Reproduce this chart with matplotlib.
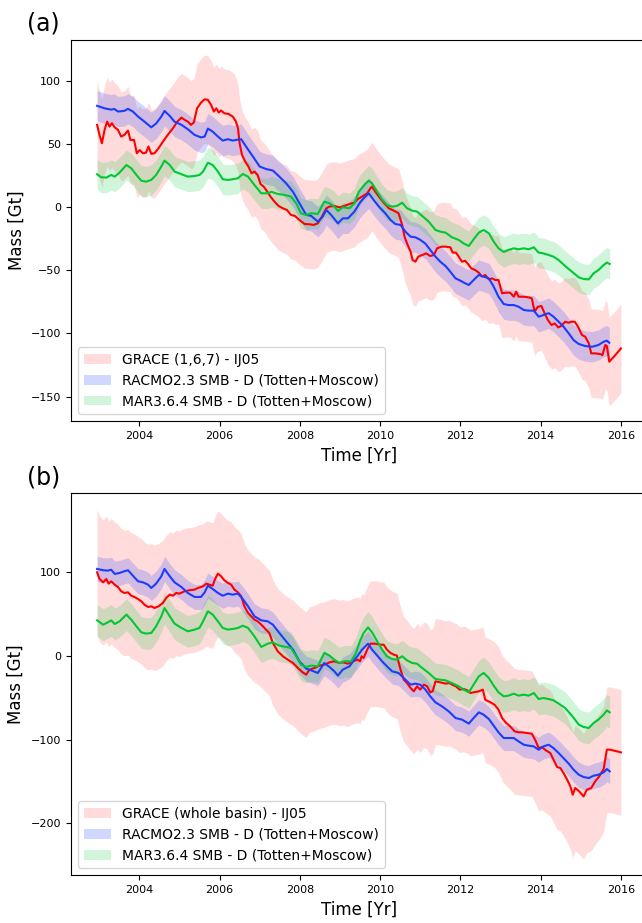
import numpy as np
import matplotlib
matplotlib.use('Agg')
import matplotlib.pyplot as plt

# (time [yr], mass [Gt])
# ---- panel (a) ----
GRACE_A = [(2002.95, 64.9), (2003.01, 57.0), (2003.07, 50.4), (2003.14, 61.5), (2003.20, 67.5), (2003.26, 63.6),
           (2003.32, 66.2), (2003.39, 63.0), (2003.47, 61.0), (2003.55, 55.7), (2003.63, 57.0), (2003.72, 60.4),
           (2003.78, 53.0), (2003.87, 53.0), (2003.94, 42.5), (2004.01, 45.0), (2004.09, 42.5), (2004.17, 43.0),
           (2004.23, 47.8), (2004.30, 42.0), (2004.38, 42.5), (2004.48, 46.4), (2004.59, 51.7), (2004.71, 57.0),
           (2004.84, 62.3), (2004.95, 67.5), (2005.05, 70.7), (2005.13, 68.9), (2005.21, 67.5), (2005.29, 64.9),
           (2005.36, 66.8), (2005.44, 78.0), (2005.54, 82.6), (2005.63, 85.2), (2005.71, 84.7), (2005.79, 80.7),
           (2005.86, 75.5), (2005.92, 78.0), (2005.98, 74.7), (2006.04, 76.3), (2006.12, 74.1), (2006.22, 73.6),
           (2006.33, 71.5), (2006.41, 67.5), (2006.46, 62.3), (2006.50, 50.4), (2006.56, 41.2), (2006.64, 35.9),
           (2006.72, 31.9), (2006.80, 26.6), (2006.87, 28.0), (2006.95, 25.3), (2007.02, 18.2), (2007.10, 16.1),
           (2007.19, 12.1), (2007.27, 8.2), (2007.37, 4.2), (2007.47, 0.8), (2007.58, -1.1), (2007.68, -2.4),
           (2007.78, -6.3), (2007.88, -7.1), (2007.99, -10.3), (2008.12, -13.5), (2008.24, -13.7), (2008.35, -14.2),
           (2008.45, -12.9), (2008.55, -7.7), (2008.66, -1.1), (2008.74, 0.3), (2008.86, 0.8), (2008.99, -0.3),
           (2009.11, 0.8), (2009.24, 2.4), (2009.36, 3.4), (2009.44, 6.1), (2009.55, 8.2), (2009.68, 10.8),
           (2009.76, 14.8), (2009.80, 16.1), (2009.88, 12.1), (2009.97, 8.2), (2010.09, 3.4), (2010.22, -1.1),
           (2010.34, -2.9), (2010.46, -5.0), (2010.55, -14.2), (2010.61, -23.5), (2010.67, -28.8), (2010.76, -35.4),
           (2010.81, -42.0), (2010.88, -43.3), (2010.95, -39.3), (2011.05, -38.0), (2011.15, -36.7), (2011.25, -38.8),
           (2011.34, -38.0), (2011.42, -32.7), (2011.53, -31.4), (2011.63, -31.4), (2011.75, -31.9), (2011.81, -36.1),
           (2011.89, -36.1), (2011.96, -39.3), (2012.04, -43.3), (2012.12, -42.5), (2012.19, -45.1), (2012.27, -48.5),
           (2012.37, -49.9), (2012.46, -52.0), (2012.54, -55.1), (2012.62, -53.8), (2012.71, -57.3), (2012.79, -56.5),
           (2012.87, -57.8), (2012.95, -57.8), (2013.04, -68.3), (2013.14, -67.8), (2013.24, -67.8), (2013.33, -71.0),
           (2013.39, -67.0), (2013.45, -71.0), (2013.58, -71.0), (2013.70, -71.5), (2013.78, -72.3), (2013.85, -82.8),
           (2013.93, -78.9), (2014.02, -78.4), (2014.10, -84.2), (2014.18, -89.4), (2014.27, -93.4), (2014.35, -92.1),
           (2014.44, -95.3), (2014.51, -94.2), (2014.61, -90.8), (2014.70, -91.6), (2014.76, -90.8), (2014.85, -90.8),
           (2014.93, -94.7), (2015.03, -101.3), (2015.11, -102.6), (2015.20, -107.9), (2015.26, -115.8),
           (2015.36, -115.8), (2015.49, -116.4), (2015.54, -117.2), (2015.61, -109.2), (2015.65, -110.0),
           (2015.71, -122.4), (2015.86, -117.2), (2016.00, -111.9)]

RACMO_A = [(2002.95, 80.0), (2003.14, 78.0), (2003.30, 77.0), (2003.38, 77.5), (2003.47, 75.5), (2003.63, 76.0),
           (2003.72, 77.6), (2003.84, 75.5), (2003.97, 71.5), (2004.13, 67.5), (2004.30, 63.0), (2004.42, 66.0),
           (2004.55, 71.5), (2004.63, 76.0), (2004.76, 72.0), (2004.88, 67.5), (2005.05, 65.0), (2005.21, 61.5),
           (2005.38, 57.0), (2005.54, 55.0), (2005.63, 55.7), (2005.71, 62.0), (2005.83, 59.6), (2005.96, 55.7),
           (2006.08, 52.5), (2006.21, 53.6), (2006.33, 52.5), (2006.41, 53.0), (2006.54, 53.6), (2006.66, 47.8),
           (2006.83, 40.0), (2007.00, 32.0), (2007.16, 30.0), (2007.33, 28.8), (2007.49, 24.0), (2007.66, 18.7),
           (2007.83, 12.0), (2007.99, 3.0), (2008.16, -6.3), (2008.28, -7.0), (2008.45, -11.6), (2008.57, -7.7),
           (2008.66, -2.4), (2008.78, -6.3), (2008.95, -13.0), (2009.07, -9.0), (2009.20, -9.0), (2009.36, -3.7),
           (2009.50, 3.5), (2009.59, 6.9), (2009.72, 10.8), (2009.84, 5.5), (2009.97, 0.3), (2010.13, -5.0),
           (2010.26, -10.3), (2010.38, -13.5), (2010.51, -14.2), (2010.63, -19.5), (2010.76, -23.5), (2010.88, -24.0),
           (2011.00, -26.0), (2011.13, -29.0), (2011.25, -34.0), (2011.38, -39.3), (2011.50, -43.3), (2011.63, -46.7),
           (2011.75, -51.2), (2011.88, -56.5), (2012.00, -58.3), (2012.12, -60.4), (2012.21, -61.7), (2012.33, -57.8),
           (2012.46, -53.8), (2012.58, -55.1), (2012.71, -56.5), (2012.83, -63.0), (2012.95, -71.0), (2013.08, -76.8),
           (2013.20, -77.6), (2013.33, -77.6), (2013.45, -78.9), (2013.58, -81.5), (2013.70, -82.0), (2013.83, -82.0),
           (2013.95, -86.8), (2014.07, -85.5), (2014.20, -84.0), (2014.32, -86.8), (2014.45, -90.8), (2014.57, -94.7),
           (2014.70, -100.0), (2014.82, -105.3), (2014.95, -108.4), (2015.11, -110.0), (2015.28, -110.6),
           (2015.44, -109.2), (2015.57, -106.6), (2015.65, -105.8), (2015.71, -107.4)]

MAR_A = [(2002.95, 25.9), (2003.05, 23.5), (2003.18, 23.2), (2003.30, 25.3), (2003.39, 24.0), (2003.51, 27.2),
         (2003.68, 33.2), (2003.80, 30.6), (2003.93, 25.3), (2004.05, 20.8), (2004.17, 20.0), (2004.30, 21.4),
         (2004.42, 25.3), (2004.55, 32.0), (2004.63, 36.7), (2004.76, 33.2), (2004.88, 28.0), (2005.05, 25.9),
         (2005.21, 24.0), (2005.38, 24.5), (2005.50, 25.3), (2005.59, 28.0), (2005.71, 35.0), (2005.83, 33.2),
         (2005.96, 28.0), (2006.08, 21.9), (2006.21, 21.4), (2006.33, 21.9), (2006.46, 22.7), (2006.58, 26.1),
         (2006.71, 24.0), (2006.87, 17.4), (2007.04, 10.8), (2007.20, 10.8), (2007.29, 12.0), (2007.45, 10.3),
         (2007.62, 9.5), (2007.78, 8.2), (2007.91, 2.9), (2008.03, -5.0), (2008.16, -6.3), (2008.28, -5.0),
         (2008.45, -5.5), (2008.61, 4.2), (2008.74, 2.9), (2008.86, 0.3), (2008.95, -3.2), (2009.07, -0.3),
         (2009.24, -1.0), (2009.36, 2.9), (2009.47, 12.0), (2009.63, 18.2), (2009.72, 20.8), (2009.80, 18.7),
         (2009.93, 12.0), (2010.05, 6.0), (2010.17, 1.6), (2010.30, 0.3), (2010.42, 0.8), (2010.55, 3.4),
         (2010.67, -1.0), (2010.80, -2.9), (2010.92, -3.7), (2011.05, -7.1), (2011.21, -11.6), (2011.38, -18.2),
         (2011.50, -19.5), (2011.63, -20.3), (2011.79, -24.0), (2011.96, -26.1), (2012.08, -28.8), (2012.21, -30.9),
         (2012.33, -25.6), (2012.46, -20.3), (2012.58, -18.2), (2012.71, -20.8), (2012.83, -27.4), (2012.95, -32.7),
         (2013.08, -35.6), (2013.20, -34.0), (2013.33, -32.7), (2013.45, -33.5), (2013.58, -32.7), (2013.70, -33.5),
         (2013.83, -31.9), (2013.95, -36.1), (2014.07, -36.7), (2014.20, -38.0), (2014.32, -39.3), (2014.45, -42.0),
         (2014.61, -46.7), (2014.78, -51.2), (2014.95, -55.7), (2015.07, -57.0), (2015.20, -57.3), (2015.32, -52.5),
         (2015.44, -49.9), (2015.57, -45.9), (2015.65, -44.0), (2015.72, -45.1)]

# ---- panel (b) ----
GRACE_B = [(2002.95, 100.0), (2003.01, 92.0), (2003.10, 88.0), (2003.18, 92.0), (2003.24, 86.4), (2003.30, 89.2),
           (2003.39, 85.2), (2003.47, 82.4), (2003.55, 77.3), (2003.63, 75.3), (2003.72, 76.0), (2003.80, 72.0),
           (2003.88, 70.5), (2003.97, 68.0), (2004.05, 65.3), (2004.13, 61.3), (2004.22, 58.5), (2004.30, 59.3),
           (2004.38, 57.3), (2004.48, 59.3), (2004.59, 63.3), (2004.67, 69.3), (2004.76, 73.3), (2004.84, 72.0),
           (2004.92, 75.3), (2005.00, 74.5), (2005.13, 77.3), (2005.25, 78.5), (2005.38, 79.3), (2005.46, 81.2),
           (2005.59, 83.2), (2005.67, 86.4), (2005.75, 85.2), (2005.83, 84.0), (2005.89, 92.0), (2005.96, 98.4),
           (2006.04, 95.2), (2006.12, 90.4), (2006.21, 87.2), (2006.29, 85.2), (2006.37, 79.3), (2006.46, 76.0),
           (2006.54, 71.3), (2006.62, 59.3), (2006.71, 51.4), (2006.79, 47.4), (2006.87, 43.4), (2006.95, 41.4),
           (2007.04, 37.4), (2007.12, 33.5), (2007.24, 27.5), (2007.33, 15.5), (2007.45, 5.6), (2007.58, -0.4),
           (2007.70, -4.4), (2007.83, -8.4), (2007.95, -14.3), (2008.07, -19.5), (2008.16, -22.3), (2008.24, -16.3),
           (2008.37, -14.3), (2008.49, -11.5), (2008.61, -10.4), (2008.74, -7.6), (2008.86, -6.4), (2008.99, -8.4),
           (2009.07, -7.6), (2009.20, -9.2), (2009.32, -6.4), (2009.44, -4.4), (2009.50, -6.4), (2009.54, -0.4),
           (2009.59, -2.4), (2009.68, 7.6), (2009.76, 14.7), (2009.88, 14.7), (2010.01, 13.5), (2010.09, 13.5),
           (2010.17, 7.6), (2010.26, 3.6), (2010.34, 1.6), (2010.42, 0.4), (2010.51, -16.3), (2010.59, -28.3),
           (2010.67, -32.3), (2010.76, -38.2), (2010.84, -42.2), (2010.92, -36.2), (2011.00, -40.2), (2011.09, -34.2),
           (2011.17, -36.2), (2011.25, -43.4), (2011.31, -42.2), (2011.38, -30.3), (2011.50, -31.5), (2011.63, -33.0),
           (2011.73, -32.3), (2011.79, -34.2), (2011.89, -36.2), (2011.98, -40.2), (2012.08, -39.4), (2012.17, -41.0),
           (2012.25, -44.2), (2012.33, -43.4), (2012.46, -42.2), (2012.56, -40.2), (2012.62, -52.2), (2012.75, -55.4),
           (2012.85, -58.1), (2012.95, -64.1), (2013.04, -74.1), (2013.14, -80.0), (2013.24, -84.0), (2013.35, -90.0),
           (2013.45, -91.2), (2013.54, -91.2), (2013.66, -92.0), (2013.78, -92.8), (2013.87, -100.8), (2013.95, -110.0),
           (2014.03, -108.7), (2014.13, -112.7), (2014.24, -115.9), (2014.32, -123.8), (2014.41, -132.6),
           (2014.49, -133.8), (2014.57, -139.8), (2014.66, -147.7), (2014.74, -155.7), (2014.80, -165.7),
           (2014.86, -157.7), (2014.96, -161.7), (2015.07, -167.7), (2015.15, -159.7), (2015.26, -157.7),
           (2015.36, -149.7), (2015.46, -143.8), (2015.57, -135.0), (2015.65, -111.9), (2015.73, -111.9),
           (2016.00, -115.1)]

RACMO_B = [(2002.95, 104.0), (2003.10, 102.4), (2003.22, 102.0), (2003.30, 103.0), (2003.39, 98.0), (2003.51, 99.2),
           (2003.63, 101.2), (2003.72, 102.4), (2003.84, 96.0), (2003.97, 89.2), (2004.09, 88.0), (2004.22, 85.2),
           (2004.30, 81.2), (2004.42, 86.4), (2004.55, 95.2), (2004.63, 104.0), (2004.76, 95.2), (2004.88, 88.0),
           (2005.05, 82.4), (2005.21, 75.3), (2005.38, 70.5), (2005.54, 70.5), (2005.63, 76.0), (2005.71, 84.0),
           (2005.83, 80.0), (2005.96, 75.3), (2006.08, 72.0), (2006.21, 74.5), (2006.33, 73.3), (2006.46, 74.5),
           (2006.58, 68.0), (2006.71, 59.3), (2006.87, 47.4), (2007.04, 42.6), (2007.20, 41.4), (2007.33, 37.4),
           (2007.49, 27.5), (2007.66, 17.5), (2007.83, 7.6), (2007.99, -6.4), (2008.16, -15.1), (2008.28, -17.1),
           (2008.45, -20.3), (2008.61, -8.4), (2008.74, -13.1), (2008.86, -18.3), (2008.95, -23.5), (2009.07, -16.3),
           (2009.24, -12.3), (2009.36, -4.4), (2009.43, -0.4), (2009.55, 7.6), (2009.70, 14.7), (2009.80, 7.6),
           (2009.93, 0.4), (2010.05, -6.4), (2010.17, -12.3), (2010.30, -18.3), (2010.46, -20.3), (2010.63, -28.3),
           (2010.76, -34.2), (2010.88, -33.0), (2011.00, -34.2), (2011.13, -40.2), (2011.25, -48.2), (2011.38, -55.4),
           (2011.54, -60.1), (2011.71, -66.1), (2011.88, -74.1), (2012.04, -76.0), (2012.21, -80.8), (2012.33, -74.1),
           (2012.46, -67.3), (2012.58, -70.1), (2012.71, -75.3), (2012.83, -83.2), (2012.95, -91.2), (2013.08, -98.0),
           (2013.20, -98.0), (2013.33, -98.0), (2013.45, -102.0), (2013.58, -106.0), (2013.70, -107.1),
           (2013.83, -108.0), (2013.95, -112.0), (2014.07, -108.0), (2014.20, -106.0), (2014.32, -110.0),
           (2014.45, -116.0), (2014.57, -122.0), (2014.70, -128.6), (2014.82, -135.8), (2014.95, -141.8),
           (2015.07, -144.6), (2015.20, -145.8), (2015.32, -143.0), (2015.44, -141.8), (2015.57, -139.0),
           (2015.65, -135.0), (2015.72, -137.8)]

MAR_B = [(2002.95, 42.6), (2003.10, 37.4), (2003.22, 40.2), (2003.30, 42.6), (2003.39, 38.2), (2003.51, 41.4),
         (2003.68, 49.4), (2003.80, 43.4), (2003.93, 35.4), (2004.05, 28.3), (2004.17, 26.7), (2004.30, 27.5),
         (2004.42, 35.4), (2004.55, 47.4), (2004.63, 57.3), (2004.76, 47.4), (2004.88, 38.6), (2005.05, 33.5),
         (2005.21, 29.5), (2005.38, 31.5), (2005.50, 33.5), (2005.59, 41.4), (2005.71, 53.4), (2005.83, 49.4),
         (2005.96, 41.4), (2006.08, 33.5), (2006.21, 31.5), (2006.33, 32.3), (2006.46, 33.5), (2006.58, 36.2),
         (2006.71, 33.5), (2006.87, 23.5), (2007.04, 10.8), (2007.20, 14.7), (2007.33, 16.3), (2007.49, 12.3),
         (2007.66, 10.8), (2007.78, 9.6), (2007.91, -0.4), (2008.03, -10.4), (2008.16, -13.1), (2008.28, -11.5),
         (2008.45, -12.3), (2008.61, 3.6), (2008.74, 0.4), (2008.86, -4.4), (2008.99, -8.4), (2009.11, -6.4),
         (2009.28, -6.4), (2009.40, 3.6), (2009.50, 18.0), (2009.59, 27.5), (2009.70, 34.2), (2009.80, 28.3),
         (2009.93, 17.5), (2010.05, 7.6), (2010.17, -0.4), (2010.30, -3.6), (2010.42, -4.4), (2010.55, -0.4),
         (2010.67, -5.2), (2010.80, -8.4), (2010.92, -9.2), (2011.05, -14.3), (2011.21, -20.3), (2011.38, -27.5),
         (2011.50, -28.3), (2011.63, -29.1), (2011.79, -32.3), (2011.96, -36.2), (2012.08, -40.2), (2012.21, -43.4),
         (2012.33, -34.2), (2012.46, -24.3), (2012.58, -20.3), (2012.71, -26.3), (2012.83, -35.4), (2012.95, -43.4),
         (2013.08, -48.2), (2013.20, -47.4), (2013.33, -45.0), (2013.45, -47.4), (2013.58, -46.2), (2013.70, -47.4),
         (2013.83, -44.2), (2013.95, -51.4), (2014.07, -50.2), (2014.20, -51.4), (2014.32, -53.0), (2014.45, -56.9),
         (2014.61, -62.1), (2014.78, -71.3), (2014.95, -82.0), (2015.07, -84.8), (2015.20, -86.0), (2015.32, -80.0),
         (2015.44, -76.0), (2015.57, -70.0), (2015.65, -65.0), (2015.72, -67.3)]

# uncertainty half-widths [Gt] (grace, racmo, mar) per panel
ERR_A = (35, 12, 12)
ERR_B = (75, 15, 19)

LABELS_A = ['GRACE (1,6,7) - IJ05', 'RACMO2.3 SMB - D (Totten+Moscow)', 'MAR3.6.4 SMB - D (Totten+Moscow)']
LABELS_B = ['GRACE (whole basin) - IJ05', 'RACMO2.3 SMB - D (Totten+Moscow)', 'MAR3.6.4 SMB - D (Totten+Moscow)']

COLORS = ['#ff0000', '#1a3cff', '#00c832']
FILL_ALPHA = [0.14, 0.2, 0.18]


def draw_panel(ax, series, errs, labels, ylim, yticks):
    # bands first, then the lines on top
    for s, e, lab, c, a in zip(series, errs, labels, COLORS, FILL_ALPHA):
        d = np.array(s)
        ax.fill_between(d[:, 0], d[:, 1] - e, d[:, 1] + e, color=c, alpha=a, lw=0, label=lab)
    for s, c in zip(series, COLORS):
        d = np.array(s)
        ax.plot(d[:, 0], d[:, 1], color=c, lw=1.5)
    ax.set_xlim(2002.30, 2016.65)
    ax.set_ylim(*ylim)
    ax.set_xticks([2004, 2006, 2008, 2010, 2012, 2014, 2016])
    ax.set_yticks(yticks)
    ax.tick_params(labelsize=8)
    ax.set_xlabel('Time [Yr]', fontsize=12)
    ax.set_ylabel('Mass [Gt]', fontsize=12)
    ax.legend(loc='lower left', fontsize=10)


fig = plt.figure(figsize=(6.42, 9.23), dpi=100)
ax1 = fig.add_axes([0.1106, 0.5439, 0.8972, 0.4128])
ax2 = fig.add_axes([0.1106, 0.0520, 0.8972, 0.4139])

draw_panel(ax1, [GRACE_A, RACMO_A, MAR_A], ERR_A, LABELS_A, (-169.3, 132.1), [-150, -100, -50, 0, 50, 100])
draw_panel(ax2, [GRACE_B, RACMO_B, MAR_B], ERR_B, LABELS_B, (-261.6, 194.7), [-200, -100, 0, 100])

fig.text(27 / 642, 1 - 23 / 923, '(a)', fontsize=17, va='center', ha='left')
fig.text(27 / 642, 1 - 477 / 923, '(b)', fontsize=17, va='center', ha='left')

fig.savefig('out.png', dpi=100)
